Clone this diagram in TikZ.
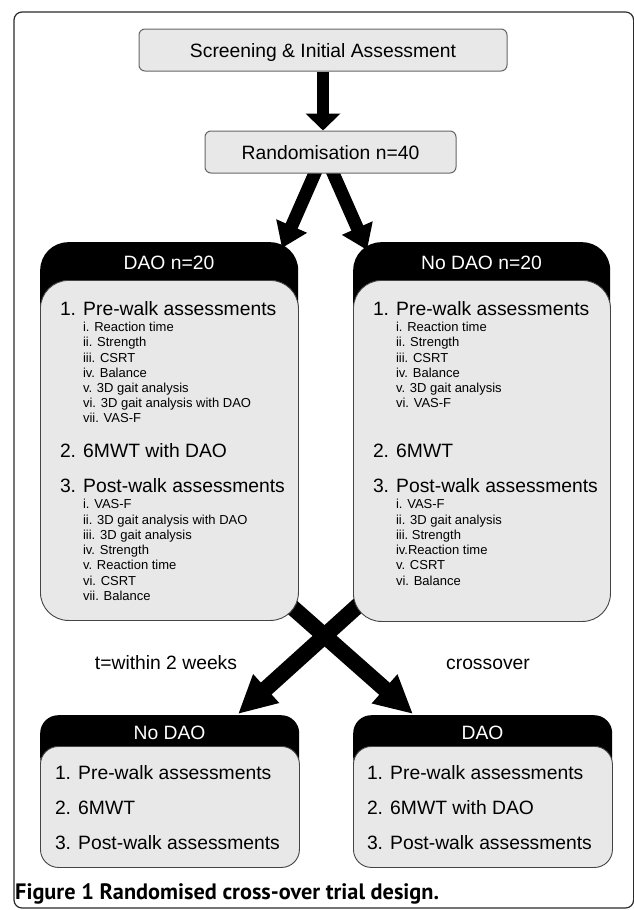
\documentclass[tikz,border=0pt]{standalone}
\usepackage{fontspec}
\setmainfont{Liberation Sans}
\newfontfamily\capfont{PT Sans}
\usetikzlibrary{arrows.meta}
\definecolor{boxgray}{HTML}{E8E8E8}
\definecolor{edgegray}{HTML}{666666}
\definecolor{paneledge}{HTML}{444444}
\definecolor{framecol}{HTML}{2A2A2A}
\pgfdeclarelayer{bg}
\pgfsetlayers{bg,main}
\begin{document}
\begin{tikzpicture}[x=1pt,y=-1pt,
  txtbig/.style={font=\fontsize{19.3}{23}\selectfont, inner sep=0pt, outer sep=0pt},
  txtsmall/.style={font=\fontsize{13}{15}\selectfont, inner sep=0pt, outer sep=0pt},
  flowbox/.style={draw=edgegray, fill=boxgray, line width=1pt, rounded corners=6pt, inner sep=0pt,
                  font=\fontsize{19.3}{23}\selectfont, text height=14pt, text depth=0pt},
  headband/.style={fill=black, rounded corners=#1, inner sep=0pt, anchor=north west},
  panelbox/.style={draw=paneledge, fill=boxgray, line width=0.9pt, rounded corners=#1, inner sep=0pt, anchor=north west},
  downarr/.style={line width=12pt, -{Triangle[width=34pt,length=17pt]}},
  varr/.style={line width=13pt, -{Triangle[width=32pt,length=24pt]}},
  xarr/.style={line width=16pt, -{Triangle[width=36pt,length=38pt]}}
]
\useasboundingbox (0,0) rectangle (633,910);
% outer frame
\draw[framecol, line width=1.2pt, rounded corners=8pt] (14,12) rectangle (633.6,908);

% top boxes
\node[flowbox, minimum width=368pt, minimum height=42pt] (scr) at (323,50) {Screening \& Initial Assessment};
\node[flowbox, minimum width=251pt, minimum height=42pt] (rnd) at (330.5,152) {Randomisation n=40};
\draw[downarr] (scr.south) -- (scr.south |- rnd.north);

% arrow end points
\coordinate (vLs) at (318.5,165);
\coordinate (vRs) at (329.5,165);
\coordinate (vL) at (282,248);
\coordinate (vR) at (367,250);
\coordinate (xLs) at (275,592);
\coordinate (xRs) at (373,592);
\coordinate (xR) at (413,714);
\coordinate (xL) at (238,714);

% big boxes
\node[headband=28pt, minimum width=258pt, minimum height=90pt] (daoH) at (40,242) {};
\node[panelbox=28pt, minimum width=258pt, minimum height=340pt] (daoP) at (40,280) {};
\node[headband=28pt, minimum width=257pt, minimum height=90pt] (ndaoH) at (353,242) {};
\node[panelbox=28pt, minimum width=257pt, minimum height=341pt] (ndaoP) at (353,280) {};

\node[txtbig, text=white, anchor=base] (daoT) at (169,269) {DAO n=20};
\node[txtbig, text=white, anchor=base] (ndaoT) at (481.5,269) {No DAO n=20};

% DAO contents
\node[txtbig, anchor=base west] (d1) at (60,315) {1. Pre-walk assessments};
\foreach \t [count=\i] in {i. Reaction time, ii. Strength, iii. CSRT, iv. Balance, v. 3D gait analysis, vi. 3D gait analysis with DAO, vii. VAS-F}
  \node[txtsmall, anchor=base west] (dpre\i) at (83,{331.7+15.2*(\i-1)}) {\t};
\node[txtbig, anchor=base west] (d2) at (60,457) {2. 6MWT with DAO};
\node[txtbig, anchor=base west] (d3) at (60,492) {3. Post-walk assessments};
\foreach \t [count=\i] in {i. VAS-F, ii. 3D gait analysis with DAO, iii. 3D gait analysis, iv. Strength, v. Reaction time, vi. CSRT, vii. Balance}
  \node[txtsmall, anchor=base west] (dpost\i) at (83,{508.7+15.3*(\i-1)}) {\t};

% No DAO contents
\node[txtbig, anchor=base west] (n1) at (373,315) {1. Pre-walk assessments};
\foreach \t [count=\i] in {i. Reaction time, ii. Strength, iii. CSRT, iv. Balance, v. 3D gait analysis, vi. VAS-F}
  \node[txtsmall, anchor=base west] (npre\i) at (396,{331.7+15.2*(\i-1)}) {\t};
\node[txtbig, anchor=base west] (n2) at (373,457) {2. 6MWT};
\node[txtbig, anchor=base west] (n3) at (373,492) {3. Post-walk assessments};
\foreach \t [count=\i] in {i. VAS-F, ii. 3D gait analysis, iii.\ Strength, iv.Reaction time, v. CSRT, vi. Balance}
  \node[txtsmall, anchor=base west] (npost\i) at (396,{508.7+15.3*(\i-1)}) {\t};

% labels
\node[txtbig, anchor=base] (tlab) at (166,669) {t=within 2 weeks};
\node[txtbig, anchor=base] (clab) at (488,669) {crossover};

% bottom boxes
\node[headband=18pt, minimum width=259pt, minimum height=60pt] (bLH) at (40,715) {};
\node[panelbox=18pt, minimum width=259pt, minimum height=121pt] (bLP) at (40,746) {};
\node[headband=18pt, minimum width=259pt, minimum height=60pt] (bRH) at (353,715) {};
\node[panelbox=18pt, minimum width=259pt, minimum height=121pt] (bRP) at (353,746) {};

\node[txtbig, text=white, anchor=base] (bLT) at (169.5,739) {No DAO};
\node[txtbig, text=white, anchor=base] (bRT) at (482.5,739) {DAO};

\node[txtbig, anchor=base west] (bL1) at (55,779) {1. Pre-walk assessments};
\node[txtbig, anchor=base west] (bL2) at (55,814) {2. 6MWT};
\node[txtbig, anchor=base west] (bL3) at (55,849) {3. Post-walk assessments};
\node[txtbig, anchor=base west] (bR1) at (367,779) {1. Pre-walk assessments};
\node[txtbig, anchor=base west] (bR2) at (367,814) {2. 6MWT with DAO};
\node[txtbig, anchor=base west] (bR3) at (367,849) {3. Post-walk assessments};

% caption
\node[inner sep=0pt, anchor=base west] (cap) at (15,899) {\capfont\bfseries\fontsize{22.3}{26}\selectfont Figure 1 Randomised cross-over trial design.};

% arrows behind boxes
\begin{pgfonlayer}{bg}
  \fill[white] (0,0) rectangle (633,910);
  \draw[varr] (vLs) -- (vL);
  \draw[varr] (vRs) -- (vR);
  \draw[xarr] (xLs) -- (xR);
  \draw[xarr] (xRs) -- (xL);
\end{pgfonlayer}
\end{tikzpicture}
\end{document}
